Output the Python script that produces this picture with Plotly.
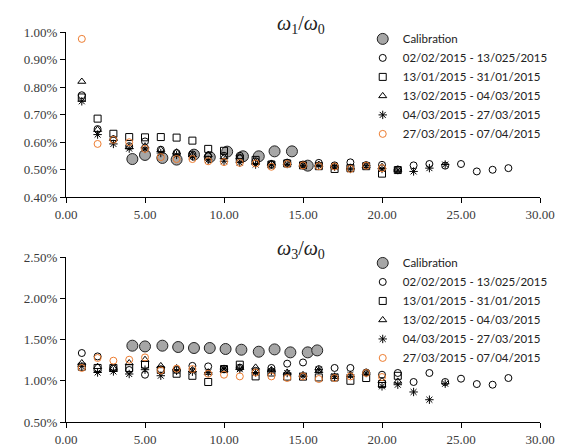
import plotly.graph_objects as go
from plotly.subplots import make_subplots

# ---------------- data (values in %) ----------------
series_names = ["Calibration", "02/02/2015 - 13/025/2015", "13/01/2015 - 31/01/2015",
                "13/02/2015 - 04/03/2015", "04/03/2015 - 27/03/2015", "27/03/2015 - 07/04/2015"]

# omega1 / omega0
calib_x1 = [4.2, 5.0, 6.1, 7.0, 8.1, 9.1, 10.2, 11.2, 12.2, 13.2, 14.3, 15.3]
calib_y1 = [0.538, 0.553, 0.542, 0.536, 0.554, 0.545, 0.565, 0.548, 0.548, 0.566, 0.566, 0.514]
circ_y1 = [0.770, 0.647, 0.610, 0.585, 0.602, 0.572, 0.560, 0.555, 0.548, 0.550, 0.550, 0.530, 0.520, 0.525,
           0.518, 0.524, 0.515, 0.526, 0.516, 0.517, 0.500, 0.515, 0.520, 0.514, 0.520, 0.493, 0.499, 0.505]
sq_y1 = [0.762, 0.685, 0.630, 0.618, 0.617, 0.618, 0.616, 0.605, 0.575, 0.568, 0.540, 0.535, 0.518, 0.522,
         0.515, 0.512, 0.502, 0.505, 0.512, 0.485, 0.498]
tri_y1 = [0.820, 0.645, 0.612, 0.582, 0.585, 0.572, 0.563, 0.553, 0.554, 0.545, 0.545, 0.528, 0.522, 0.524,
          0.516, 0.518, 0.512, 0.508, 0.514, 0.510, 0.500]
ast_y1 = [0.748, 0.627, 0.593, 0.576, 0.575, 0.560, 0.553, 0.548, 0.535, 0.530, 0.525, 0.518, 0.518, 0.520,
          0.515, 0.514, 0.510, 0.502, 0.514, 0.502, 0.498, 0.493, 0.505, 0.518]
or_y1 = [0.975, 0.593, 0.608, 0.599, 0.575, 0.545, 0.538, 0.538, 0.530, 0.527, 0.524, 0.522, 0.510, 0.520,
         0.515, 0.512, 0.511, 0.502, 0.514, 0.505]

# omega3 / omega0
calib_x3 = [4.2, 5.0, 6.1, 7.1, 8.1, 9.1, 10.1, 11.1, 12.2, 13.2, 14.2, 15.3, 15.9]
calib_y3 = [1.425, 1.416, 1.425, 1.409, 1.397, 1.397, 1.385, 1.376, 1.352, 1.380, 1.344, 1.344, 1.368]
circ_y3 = [1.336, 1.295, 1.150, 1.130, 1.073, 1.140, 1.130, 1.180, 1.174, 1.140, 1.160, 1.120, 1.155, 1.207,
           1.222, 1.140, 1.155, 1.155, 1.100, 1.073, 1.094, 0.985, 1.094, 0.985, 1.025, 0.960, 0.952, 1.033]
sq_y3 = [1.170, 1.155, 1.155, 1.155, 1.195, 1.130, 1.085, 1.060, 0.985, 1.142, 1.195, 1.053, 1.100, 1.050,
         1.050, 1.040, 1.040, 1.000, 1.033, 0.960, 1.060]
tri_y3 = [1.215, 1.170, 1.150, 1.215, 1.255, 1.180, 1.155, 1.130, 1.100, 1.130, 1.160, 1.162, 1.130, 1.100,
          1.070, 1.120, 1.050, 1.070, 1.100, 1.000, 0.992]
ast_y3 = [1.174, 1.100, 1.113, 1.082, 1.134, 1.061, 1.120, 1.110, 1.100, 1.142, 1.140, 1.100, 1.120, 1.094,
          1.060, 1.134, 1.050, 1.070, 1.094, 0.932, 0.952, 0.864, 0.770, 0.964]
or_y3 = [1.155, 1.276, 1.243, 1.255, 1.283, 1.125, 1.146, 1.142, 1.085, 1.073, 1.053, 1.100, 1.053, 1.033,
         1.053, 1.021, 1.033, 1.053, 1.094, 1.045]

x_ticks = [0, 5, 10, 15, 20, 25, 30]
x_labels = ["0.00", "5.00", "10.00", "15.00", "20.00", "25.00", "30.00"]
y1_ticks = [0.40, 0.50, 0.60, 0.70, 0.80, 0.90, 1.00]
y1_labels = ["0.40%", "0.50%", "0.60%", "0.70%", "0.80%", "0.90%", "1.00%"]
y3_ticks = [0.50, 1.00, 1.50, 2.00, 2.50]
y3_labels = ["0.50%", "1.00%", "1.50%", "2.00%", "2.50%"]

# ---------------- styles ----------------
ORANGE = "#ED7D31"
styles = [
    dict(symbol="circle", size=11, color="#A6A6A6", line=dict(color="#222222", width=1)),
    dict(symbol="circle-open", size=7, color="#000000", line=dict(color="#000000", width=1)),
    dict(symbol="square-open", size=7, color="#000000", line=dict(color="#000000", width=1)),
    dict(symbol="triangle-up-open", size=7, color="#000000", line=dict(color="#000000", width=1)),
    dict(symbol="asterisk-open", size=7, color="#000000", line=dict(color="#000000", width=1)),
    dict(symbol="circle-open", size=7, color=ORANGE, line=dict(color=ORANGE, width=1)),
]

def idx(vals):
    return list(range(1, len(vals) + 1))

fig = make_subplots(rows=2, cols=1, vertical_spacing=60 / 390)

sets = [
    (1, "legend", [(calib_x1, calib_y1), (idx(circ_y1), circ_y1), (idx(sq_y1), sq_y1),
                   (idx(tri_y1), tri_y1), (idx(ast_y1), ast_y1), (idx(or_y1), or_y1)]),
    (2, "legend2", [(calib_x3, calib_y3), (idx(circ_y3), circ_y3), (idx(sq_y3), sq_y3),
                    (idx(tri_y3), tri_y3), (idx(ast_y3), ast_y3), (idx(or_y3), or_y3)]),
]
for row, leg, data in sets:
    for name, st, (xs, ys) in zip(series_names, styles, data):
        fig.add_trace(go.Scatter(x=xs, y=ys, mode="markers", name=name, marker=st,
                                 legend=leg, showlegend=True), row=row, col=1)

SERIF = "Liberation Serif, Times New Roman, serif"

def axis_style(vals, labels, rng):
    return dict(range=rng, tickmode="array", tickvals=vals, ticktext=labels,
                showline=True, linecolor="#000000", linewidth=1, ticks="outside",
                ticklen=5, tickcolor="#000000", showgrid=False, zeroline=False,
                tickfont=dict(family=SERIF, size=13, color="#3a3a3a"))

# the page body adds an 8px offset, so the figure is sized/margined to compensate
fig.update_layout(
    template="none",
    width=557, height=437,
    margin=dict(l=58, r=20, t=24, b=23),
    plot_bgcolor="white", paper_bgcolor="white",
    font=dict(family=SERIF, size=13, color="#333333"),
    xaxis=axis_style(x_ticks, x_labels, [0, 30]),
    xaxis2=axis_style(x_ticks, x_labels, [0, 30]),
    yaxis=axis_style(y1_ticks, y1_labels, [0.40, 1.00]),
    yaxis2=axis_style(y3_ticks, y3_labels, [0.50, 2.50]),
)

legend_common = dict(font=dict(family="Lato", size=11.5, color="#222222"),
                     bgcolor="rgba(0,0,0,0)", xanchor="left", yanchor="top",
                     tracegroupgap=0, itemsizing="trace", borderwidth=0)
title_font = dict(family=SERIF, size=20, color="#222222")
fig.update_layout(
    legend=dict(x=0.626, y=1.0195, **legend_common),
    legend2=dict(x=0.626, y=0.445, **legend_common),
    annotations=[
        dict(text="<i>ω</i><sub>1</sub>/<i>ω</i><sub>0</sub>", x=0.495, y=1.0, xref="paper", yref="paper",
             xanchor="center", yanchor="bottom", showarrow=False, font=title_font, yshift=-7),
        dict(text="<i>ω</i><sub>3</sub>/<i>ω</i><sub>0</sub>", x=0.495, y=0.4231, xref="paper", yref="paper",
             xanchor="center", yanchor="bottom", showarrow=False, font=title_font, yshift=-7),
    ],
)

fig.write_html("out.html")
